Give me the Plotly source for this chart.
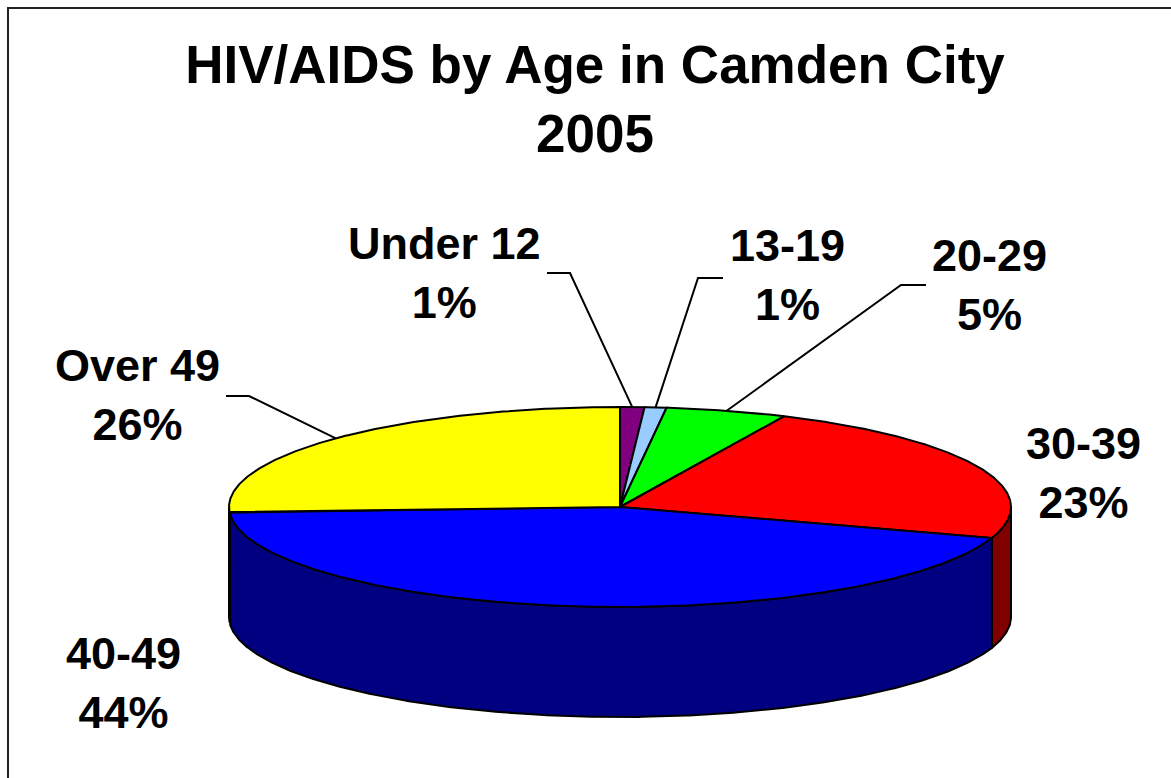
import numpy as np
import plotly.graph_objects as go

# ---- data ----
categories = ["Under 12", "13-19", "20-29", "30-39", "40-49", "Over 49"]
percent = [1.0, 0.9, 5.0, 23.1, 44.1, 25.9]
pct_labels = ["1%", "1%", "5%", "23%", "44%", "26%"]

# ---- styles ----
top_colors = ["#800080", "#99CCFF", "#00FF00", "#FF0000", "#0000FF", "#FFFF00"]
side_colors = ["#400040", "#4C6680", "#008000", "#800000", "#000080", "#808000"]
FONT = "Liberation Sans, Arial, sans-serif"

# ---- layout geometry (pixel-like units) ----
W, H = 1171, 778
CX, CY, RX, RY, DEPTH = 620, 507, 391, 100, 110

label_pos = {
    "Under 12": (444, 273), "13-19": (787, 275), "20-29": (989, 285),
    "30-39": (1083, 473), "40-49": (123, 683), "Over 49": (137, 395),
}
leader_elbows = {
    "Under 12": [(547, 273), (570, 273)],
    "13-19": [(723, 278), (698, 278)],
    "20-29": [(926, 285), (901, 285)],
    "Over 49": [(226, 396), (249, 396)],
}


def ell(t_deg, dy=0.0):
    t = np.radians(np.asarray(t_deg, dtype=float))
    return CX + RX * np.sin(t), CY - RY * np.cos(t) + dy


total = float(sum(percent))
cum = np.concatenate([[0.0], np.cumsum(percent)]) / total * 360.0

fig = go.Figure()

# side walls (front half only, t in [90, 270])
for i, cat in enumerate(categories):
    s, e = max(cum[i], 90.0), min(cum[i + 1], 270.0)
    if e <= s:
        continue
    ts = np.linspace(s, e, max(3, int((e - s) * 3)))
    xt, yt = ell(ts)
    xb, yb = ell(ts[::-1], DEPTH)
    fig.add_trace(go.Scatter(
        x=np.concatenate([xt, xb, xt[:1]]), y=np.concatenate([yt, yb, yt[:1]]),
        mode="lines", fill="toself", fillcolor=side_colors[i],
        line=dict(color="black", width=2), hoverinfo="skip", name=cat))

# top faces
for i, cat in enumerate(categories):
    t1, t2 = cum[i], cum[i + 1]
    ts = np.linspace(t1, t2, max(3, int((t2 - t1) * 3)))
    xa, ya = ell(ts)
    fig.add_trace(go.Scatter(
        x=np.concatenate([[CX], xa, [CX]]), y=np.concatenate([[CY], ya, [CY]]),
        mode="lines", fill="toself", fillcolor=top_colors[i],
        line=dict(color="black", width=2), name=cat,
        text=f"{cat}: {pct_labels[i]}", hoverinfo="text", hoveron="fills"))

# leader lines
for i, cat in enumerate(categories):
    if cat not in leader_elbows:
        continue
    mid = (cum[i] + cum[i + 1]) / 2
    mx, my = ell(mid)
    pts = leader_elbows[cat]
    fig.add_trace(go.Scatter(
        x=[p[0] for p in pts] + [float(mx)], y=[p[1] for p in pts] + [float(my)],
        mode="lines", line=dict(color="black", width=2), hoverinfo="skip"))

# labels
for i, cat in enumerate(categories):
    lx, ly = label_pos[cat]
    fig.add_annotation(x=lx, y=ly, xref="x", yref="y", text=f"{cat}<br>{pct_labels[i]}",
                       showarrow=False, xanchor="center", yanchor="middle",
                       font=dict(family=FONT, size=45, color="black", weight="bold"))

fig.update_layout(
    width=W, height=H, margin=dict(l=0, r=0, t=0, b=0),
    paper_bgcolor="white", plot_bgcolor="white", showlegend=False,
    title=dict(text="HIV/AIDS by Age in Camden City<br>2005", x=595 / W, y=1 - 83 / H,
               xanchor="center", yanchor="middle",
               font=dict(family=FONT, size=53, color="black", weight="bold")),
    xaxis=dict(range=[0, W], visible=False, fixedrange=True),
    yaxis=dict(range=[H, 0], visible=False, fixedrange=True),
    shapes=[dict(type="rect", xref="paper", yref="paper", x0=8 / W, y0=-0.1, x1=1.1, y1=1 - 8 / H,
                 line=dict(color="#222", width=2), fillcolor="rgba(0,0,0,0)", layer="above")],
)

fig.write_html("out.html", config={"displayModeBar": False},
               post_script="document.body.style.margin='0';")
